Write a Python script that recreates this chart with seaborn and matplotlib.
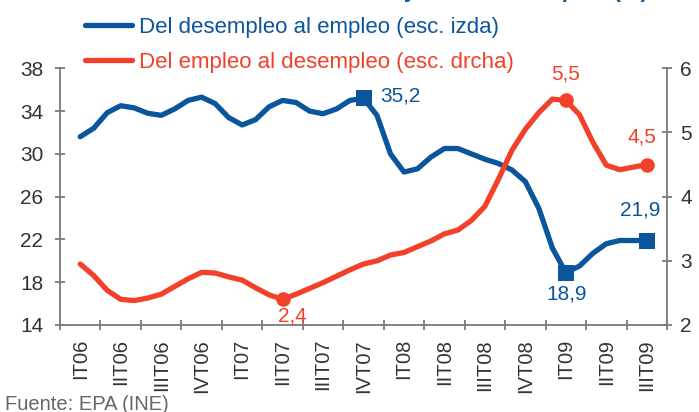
import numpy as np
import pandas as pd
import matplotlib
matplotlib.use("Agg")
import matplotlib.pyplot as plt
import seaborn as sns

# --- datos (valores mensuales) ---
trimestres = ['IT06', 'IIT06', 'IIIT06', 'IVT06', 'IT07', 'IIT07', 'IIIT07', 'IVT07',
              'IT08', 'IIT08', 'IIIT08', 'IVT08', 'IT09', 'IIT09', 'IIIT09']

# Del desempleo al empleo (esc. izda)
desempleo_empleo = [31.6, 32.4, 33.85, 34.5, 34.3, 33.8, 33.6, 34.2, 35.0, 35.3,
                    34.7, 33.4, 32.7, 33.2, 34.4, 35.0, 34.8, 34.0, 33.75, 34.2,
                    35.0, 35.2, 33.6, 30.0, 28.3, 28.6, 29.7, 30.5, 30.5, 30.0,
                    29.5, 29.1, 28.5, 27.4, 24.9, 21.2, 18.9, 19.5, 20.7, 21.6,
                    21.9, 21.9, 21.9]

# Del empleo al desempleo (esc. drcha)
empleo_desempleo = [2.95, 2.77, 2.54, 2.40, 2.38, 2.42, 2.48, 2.60, 2.72, 2.82,
                    2.81, 2.75, 2.70, 2.58, 2.47, 2.4, 2.48, 2.57, 2.66, 2.76,
                    2.86, 2.95, 3.00, 3.09, 3.13, 3.22, 3.31, 3.42, 3.48, 3.63,
                    3.85, 4.27, 4.72, 5.05, 5.31, 5.52, 5.5, 5.28, 4.85, 4.49,
                    4.42, 4.46, 4.5]

# puntos destacados (indice mensual)
marcas_azul = [21, 36, 42]
marcas_rojo = [15, 36, 42]

AZUL = '#0a559c'
ROJO = '#f2402b'
GRIS = '#7a7a7a'
TEXTO = '#333333'

df = pd.DataFrame({
    'x': np.arange(len(desempleo_empleo)) / 3,
    'de_em': desempleo_empleo,
    'em_de': empleo_desempleo,
})

sns.set_theme(style="white")
plt.rcParams['font.family'] = ['Liberation Sans', 'DejaVu Sans']

fig = plt.figure(figsize=(6.99, 4.12), dpi=100)
ax = fig.add_axes([60 / 699, 1 - 325 / 412, 607 / 699, (325 - 68.3) / 412])
ax2 = ax.twinx()

sns.lineplot(data=df, x='x', y='de_em', ax=ax, color=AZUL, linewidth=3.8,
             label='Del desempleo al empleo (esc. izda)',
             solid_capstyle='round', solid_joinstyle='round')
sns.lineplot(data=df, x='x', y='em_de', ax=ax2, color=ROJO, linewidth=3.8,
             label='Del empleo al desempleo (esc. drcha)',
             solid_capstyle='round', solid_joinstyle='round')
for a in (ax, ax2):
    if a.get_legend() is not None:
        a.get_legend().remove()

sub_az = df.iloc[marcas_azul]
sub_ro = df.iloc[marcas_rojo]
sns.scatterplot(data=sub_az, x='x', y='de_em', ax=ax, marker='s', s=125,
                color=AZUL, linewidth=0, zorder=5, legend=False)
sns.scatterplot(data=sub_ro, x='x', y='em_de', ax=ax2, marker='o', s=110,
                color=ROJO, linewidth=0, zorder=5, legend=False)

# etiquetas de valores
def fmt(v):
    return f"{v:.1f}".replace('.', ',')

off_az = [(17, 2, 'left'), (1, -21, 'center'), (-7, 31, 'center')]
for (x, v), (dx, dy, ha) in zip(sub_az[['x', 'de_em']].values, off_az):
    ax.annotate(fmt(v), (x, v), xytext=(dx, dy), textcoords='offset pixels',
                ha=ha, va='center', color=AZUL, fontsize=15)
off_ro = [(10, -17, 'center'), (0, 26, 'center'), (-5, 28, 'center')]
for (x, v), (dx, dy, ha) in zip(sub_ro[['x', 'em_de']].values, off_ro):
    ax2.annotate(fmt(v), (x, v), xytext=(dx, dy), textcoords='offset pixels',
                 ha=ha, va='center', color=ROJO, fontsize=15)

# ejes
ax.set_xlim(-0.5, len(trimestres) - 0.5)
ax.set_ylim(14, 38)
ax2.set_ylim(2, 6)
ax.set_yticks(np.arange(14, 39, 4))
ax2.set_yticks(np.arange(2, 7, 1))
ax.set_xticks(np.arange(-0.5, len(trimestres), 1))
ax.set_xticklabels([])
ax.set_xticks(np.arange(len(trimestres)), minor=True)
ax.set_xticklabels(trimestres, minor=True, rotation=90)
ax.set_xlabel('')
ax.set_ylabel('')
ax2.set_ylabel('')

for a in (ax, ax2):
    for s in a.spines.values():
        s.set_visible(False)
ax.spines['left'].set_visible(True)
ax.spines['bottom'].set_visible(True)
ax2.spines['right'].set_visible(True)
for s in (ax.spines['left'], ax.spines['bottom'], ax2.spines['right']):
    s.set_color(GRIS)
    s.set_linewidth(1.3)

ax.tick_params(axis='y', which='major', direction='inout', length=7, width=1.3,
               color=GRIS, labelsize=15, labelcolor=TEXTO, pad=8.5, left=True)
ax2.tick_params(axis='y', which='major', direction='inout', length=7, width=1.3,
                color=GRIS, labelsize=15, labelcolor=TEXTO, pad=6, right=True)
ax.tick_params(axis='x', which='major', direction='inout', length=7, width=1.3,
               color=GRIS, bottom=True)
ax.tick_params(axis='x', which='minor', length=0, labelsize=14.5,
               labelcolor=TEXTO, pad=10, bottom=True)
ax.grid(False)
ax2.grid(False)

# leyenda
handles = [ax.lines[0], ax2.lines[0]]
fig.legend(handles, [h.get_label() for h in handles], loc='upper left',
           bbox_to_anchor=(85 / 699, 1 - 16.5 / 412), frameon=False,
           fontsize=16, handlelength=2.1, handletextpad=0.33,
           labelspacing=0.65, borderpad=0, borderaxespad=0,
           labelcolor=[AZUL, ROJO])

# titulo (cortado en la parte superior, como en el original) y fuente
fig.text(0.62, 1 + 3 / 412, 'Tasas de entrada y salida del empleo (%)',
         ha='center', va='baseline', color=AZUL, fontsize=16, fontweight='bold')
fig.text(5 / 699, 1 - 404 / 412, 'Fuente: EPA (INE)', ha='left', va='center',
         color='#666666', fontsize=14.5)

fig.savefig('out.png', dpi=100)
